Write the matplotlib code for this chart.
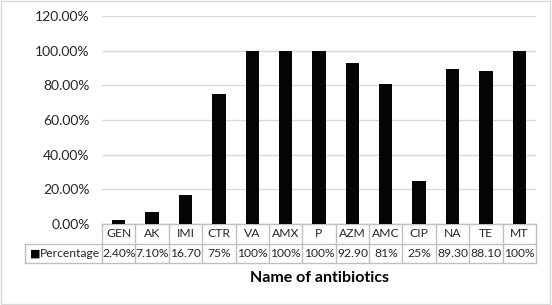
import matplotlib
matplotlib.use("Agg")
import matplotlib.pyplot as plt
from matplotlib.patches import Rectangle

categories = ["GEN", "AK", "IMI", "CTR", "VA", "AMX", "P", "AZM", "AMC", "CIP", "NA", "TE", "MT"]
percentages = [2.40, 7.10, 16.70, 75, 100, 100, 100, 92.90, 81, 25, 89.30, 88.10, 100]
cell_labels = ["2.40%", "7.10%", "16.70", "75%", "100%", "100%", "100%", "92.90", "81%", "25%", "89.30", "88.10", "100%"]
series_name = "Percentage"
y_ticks = [0, 20, 40, 60, 80, 100, 120]
x_title = "Name of antibiotics"

plt.rcParams["font.family"] = ["Lato", "DejaVu Sans"]
grid_col = "#d9d9d9"
table_col = "#bfbfbf"
text_col = "#262626"

fig = plt.figure(figsize=(5.52, 3.05), dpi=100)
ax = fig.add_axes([102 / 552, 1 - 224 / 305, 434 / 552, 208 / 305])

x = list(range(len(categories)))
ax.bar(x, percentages, width=0.4, color="#050505", zorder=3)

ax.set_xlim(-0.5, len(categories) - 0.5)
ax.set_ylim(0, 120)
ax.set_yticks(y_ticks)
ax.set_yticklabels([f"{v:.2f}%" for v in y_ticks], fontsize=10, color=text_col)
ax.tick_params(axis="y", length=0, pad=9)
ax.set_xticks([])
ax.yaxis.grid(True, color=grid_col, linewidth=1)
ax.set_axisbelow(True)
for s in ax.spines.values():
    s.set_visible(False)

# data table under the plot
tr = ax.get_xaxis_transform()
row_h = 19.5 / 208
y0, y1, y2 = 0, -row_h, -2 * row_h
label_left = -0.5 - 77 / 33.4
lw = 1.0
# horizontal lines
ax.plot([-0.5, len(categories) - 0.5], [y0, y0], transform=tr, color=table_col, lw=lw, clip_on=False)
ax.plot([label_left, len(categories) - 0.5], [y1, y1], transform=tr, color=table_col, lw=lw, clip_on=False)
ax.plot([label_left, len(categories) - 0.5], [y2, y2], transform=tr, color=table_col, lw=lw, clip_on=False)
# vertical lines
for i in range(len(categories) + 1):
    ax.plot([i - 0.5, i - 0.5], [y0, y2], transform=tr, color=table_col, lw=lw, clip_on=False)
ax.plot([label_left, label_left], [y1, y2], transform=tr, color=table_col, lw=lw, clip_on=False)

for i, (cat, lab) in enumerate(zip(categories, cell_labels)):
    ax.text(i, (y0 + y1) / 2, cat, transform=tr, ha="center", va="center", fontsize=8.7, color=text_col)
    ax.text(i, (y1 + y2) / 2, lab, transform=tr, ha="center", va="center", fontsize=8.7, color=text_col)

ax.text(label_left + 0.15, (y1 + y2) / 2, "\u25a0", transform=tr, ha="left", va="center",
        fontsize=8, color="black", family="DejaVu Sans")
ax.text(label_left + 0.45, (y1 + y2) / 2, series_name, transform=tr, ha="left", va="center",
        fontsize=8.7, color=text_col)

fig.text(319 / 552, 1 - 278 / 305, x_title, ha="center", va="center", fontsize=11.5,
         fontweight="bold", color="black")

fig.patches.append(Rectangle((0.002, 0.003), 0.995, 0.994, transform=fig.transFigure,
                             fill=False, edgecolor="#d9d9d9", lw=1))

fig.savefig("out.png", dpi=100)
